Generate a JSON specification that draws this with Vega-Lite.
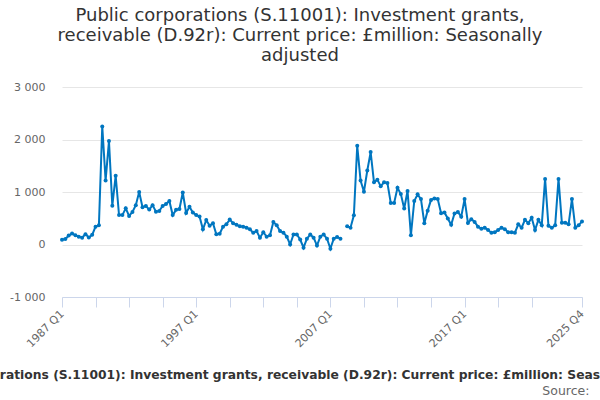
{
  "$schema": "https://vega.github.io/schema/vega-lite/v6.json",
  "width": 520,
  "height": 210,
  "autosize": "none",
  "padding": {"left": 62, "top": 87, "right": 18, "bottom": 103},
  "title": {
    "text": ["Public corporations (S.11001): Investment grants,", "receivable (D.92r): Current price: £million: Seasonally", "adjusted"],
    "font": "DejaVu Sans",
    "fontSize": 18,
    "fontWeight": "normal",
    "color": "#333333",
    "lineHeight": 20,
    "anchor": "middle",
    "dx": -22,
    "offset": 16
  },
  "data": {
    "values": [
      {"q": "1987 Q1", "v": 90}, {"q": "1987 Q2", "v": 105}, {"q": "1987 Q3", "v": 170}, {"q": "1987 Q4", "v": 210},
      {"q": "1988 Q1", "v": 175}, {"q": "1988 Q2", "v": 150}, {"q": "1988 Q3", "v": 130}, {"q": "1988 Q4", "v": 195},
      {"q": "1989 Q1", "v": 135}, {"q": "1989 Q2", "v": 185}, {"q": "1989 Q3", "v": 340}, {"q": "1989 Q4", "v": 365},
      {"q": "1990 Q1", "v": 2250}, {"q": "1990 Q2", "v": 1220}, {"q": "1990 Q3", "v": 1970}, {"q": "1990 Q4", "v": 740},
      {"q": "1991 Q1", "v": 1310}, {"q": "1991 Q2", "v": 560}, {"q": "1991 Q3", "v": 560}, {"q": "1991 Q4", "v": 690},
      {"q": "1992 Q1", "v": 545}, {"q": "1992 Q2", "v": 620}, {"q": "1992 Q3", "v": 750}, {"q": "1992 Q4", "v": 1000},
      {"q": "1993 Q1", "v": 710}, {"q": "1993 Q2", "v": 735}, {"q": "1993 Q3", "v": 665}, {"q": "1993 Q4", "v": 750},
      {"q": "1994 Q1", "v": 625}, {"q": "1994 Q2", "v": 640}, {"q": "1994 Q3", "v": 735}, {"q": "1994 Q4", "v": 770},
      {"q": "1995 Q1", "v": 830}, {"q": "1995 Q2", "v": 560}, {"q": "1995 Q3", "v": 660}, {"q": "1995 Q4", "v": 675},
      {"q": "1996 Q1", "v": 990}, {"q": "1996 Q2", "v": 600}, {"q": "1996 Q3", "v": 720}, {"q": "1996 Q4", "v": 610},
      {"q": "1997 Q1", "v": 560}, {"q": "1997 Q2", "v": 535}, {"q": "1997 Q3", "v": 290}, {"q": "1997 Q4", "v": 465},
      {"q": "1998 Q1", "v": 355}, {"q": "1998 Q2", "v": 405}, {"q": "1998 Q3", "v": 195}, {"q": "1998 Q4", "v": 205},
      {"q": "1999 Q1", "v": 340}, {"q": "1999 Q2", "v": 385}, {"q": "1999 Q3", "v": 475}, {"q": "1999 Q4", "v": 405},
      {"q": "2000 Q1", "v": 375}, {"q": "2000 Q2", "v": 350}, {"q": "2000 Q3", "v": 340}, {"q": "2000 Q4", "v": 320},
      {"q": "2001 Q1", "v": 290}, {"q": "2001 Q2", "v": 225}, {"q": "2001 Q3", "v": 255}, {"q": "2001 Q4", "v": 130},
      {"q": "2002 Q1", "v": 235}, {"q": "2002 Q2", "v": 150}, {"q": "2002 Q3", "v": 175}, {"q": "2002 Q4", "v": 430},
      {"q": "2003 Q1", "v": 365}, {"q": "2003 Q2", "v": 255}, {"q": "2003 Q3", "v": 225}, {"q": "2003 Q4", "v": 150},
      {"q": "2004 Q1", "v": 0}, {"q": "2004 Q2", "v": 190}, {"q": "2004 Q3", "v": 190}, {"q": "2004 Q4", "v": 95},
      {"q": "2005 Q1", "v": -60}, {"q": "2005 Q2", "v": 110}, {"q": "2005 Q3", "v": 190}, {"q": "2005 Q4", "v": 130},
      {"q": "2006 Q1", "v": -20}, {"q": "2006 Q2", "v": 150}, {"q": "2006 Q3", "v": 190}, {"q": "2006 Q4", "v": 110},
      {"q": "2007 Q1", "v": -80}, {"q": "2007 Q2", "v": 110}, {"q": "2007 Q3", "v": 145}, {"q": "2007 Q4", "v": 110},
      {"q": "2008 Q1", "v": null}, {"q": "2008 Q2", "v": 350}, {"q": "2008 Q3", "v": 320}, {"q": "2008 Q4", "v": 555},
      {"q": "2009 Q1", "v": 1880}, {"q": "2009 Q2", "v": 1220}, {"q": "2009 Q3", "v": 1005}, {"q": "2009 Q4", "v": 1410},
      {"q": "2010 Q1", "v": 1760}, {"q": "2010 Q2", "v": 1185}, {"q": "2010 Q3", "v": 1235}, {"q": "2010 Q4", "v": 1110},
      {"q": "2011 Q1", "v": 1185}, {"q": "2011 Q2", "v": 1170}, {"q": "2011 Q3", "v": 790}, {"q": "2011 Q4", "v": 790},
      {"q": "2012 Q1", "v": 1080}, {"q": "2012 Q2", "v": 960}, {"q": "2012 Q3", "v": 685}, {"q": "2012 Q4", "v": 1020},
      {"q": "2013 Q1", "v": 175}, {"q": "2013 Q2", "v": 830}, {"q": "2013 Q3", "v": 955}, {"q": "2013 Q4", "v": 865},
      {"q": "2014 Q1", "v": 405}, {"q": "2014 Q2", "v": 645}, {"q": "2014 Q3", "v": 850}, {"q": "2014 Q4", "v": 875},
      {"q": "2015 Q1", "v": 865}, {"q": "2015 Q2", "v": 595}, {"q": "2015 Q3", "v": 610}, {"q": "2015 Q4", "v": 495},
      {"q": "2016 Q1", "v": 375}, {"q": "2016 Q2", "v": 590}, {"q": "2016 Q3", "v": 620}, {"q": "2016 Q4", "v": 530},
      {"q": "2017 Q1", "v": 865}, {"q": "2017 Q2", "v": 410}, {"q": "2017 Q3", "v": 480}, {"q": "2017 Q4", "v": 430},
      {"q": "2018 Q1", "v": 340}, {"q": "2018 Q2", "v": 300}, {"q": "2018 Q3", "v": 320}, {"q": "2018 Q4", "v": 275},
      {"q": "2019 Q1", "v": 225}, {"q": "2019 Q2", "v": 235}, {"q": "2019 Q3", "v": 275}, {"q": "2019 Q4", "v": 320},
      {"q": "2020 Q1", "v": 290}, {"q": "2020 Q2", "v": 235}, {"q": "2020 Q3", "v": 235}, {"q": "2020 Q4", "v": 225},
      {"q": "2021 Q1", "v": 385}, {"q": "2021 Q2", "v": 320}, {"q": "2021 Q3", "v": 470}, {"q": "2021 Q4", "v": 405},
      {"q": "2022 Q1", "v": 510}, {"q": "2022 Q2", "v": 275}, {"q": "2022 Q3", "v": 470}, {"q": "2022 Q4", "v": 365},
      {"q": "2023 Q1", "v": 1250}, {"q": "2023 Q2", "v": 355}, {"q": "2023 Q3", "v": 320}, {"q": "2023 Q4", "v": 365},
      {"q": "2024 Q1", "v": 1250}, {"q": "2024 Q2", "v": 415}, {"q": "2024 Q3", "v": 415}, {"q": "2024 Q4", "v": 385},
      {"q": "2025 Q1", "v": 865}, {"q": "2025 Q2", "v": 320}, {"q": "2025 Q3", "v": 365}, {"q": "2025 Q4", "v": 440}
    ]
  },
  "layer": [
    {
      "mark": {"type": "line", "color": "#0076c0", "strokeWidth": 2},
      "encoding": {
        "x": {
          "field": "q",
          "type": "ordinal",
          "scale": {"type": "point", "padding": 0},
          "axis": {
            "orient": "bottom",
            "values": ["1987 Q1", "1989 Q3", "1992 Q1", "1994 Q3", "1997 Q1", "1999 Q3", "2002 Q1", "2004 Q3", "2007 Q1", "2009 Q3", "2012 Q1", "2014 Q3", "2017 Q1", "2019 Q3", "2022 Q1", "2025 Q4"],
            "labelExpr": "indexof(['1987 Q1', '1997 Q1', '2007 Q1', '2017 Q1', '2025 Q4'], datum.label) >= 0 ? datum.label : ''",
            "labelAngle": -45,
            "labelAlign": "right",
            "labelBaseline": "middle",
            "labelPadding": 5,
            "labelFontSize": 11,
            "labelColor": "#666666",
            "labelOverlap": false,
            "tickSize": 10,
            "tickColor": "#ccd6eb",
            "domainColor": "#ccd6eb",
            "grid": false,
            "title": "Public corporations (S.11001): Investment grants, receivable (D.92r): Current price: £million: Seasonally adjusted",
            "titleFontSize": 12.3,
            "titleFontWeight": "bold",
            "titleColor": "#333333",
            "titleX": 248,
            "titleY": 81,
            "titleAlign": "center",
            "titleBaseline": "alphabetic"
          }
        },
        "y": {
          "field": "v",
          "type": "quantitative",
          "scale": {"domain": [-1000, 3000], "nice": false},
          "axis": {
            "values": [-1000, 0, 1000, 2000, 3000],
            "labelExpr": "replace(replace(format(datum.value, ','), ',', ' '), '−', '-')",
            "labelFontSize": 11,
            "labelColor": "#666666",
            "labelPadding": 17,
            "ticks": false,
            "tickSize": 0,
            "domain": false,
            "grid": true,
            "gridColor": "#e6e6e6",
            "title": null
          }
        }
      }
    },
    {
      "mark": {"type": "point", "filled": true, "color": "#0076c0", "size": 16, "opacity": 1},
      "encoding": {
        "x": {
          "field": "q",
          "type": "ordinal",
          "axis": {
            "orient": "bottom",
            "labels": false,
            "ticks": false,
            "domain": false,
            "grid": false,
            "title": "Source:",
            "titleFontSize": 12.5,
            "titleFontWeight": "normal",
            "titleColor": "#666666",
            "titleX": 527,
            "titleY": 97,
            "titleAlign": "right",
            "titleBaseline": "alphabetic"
          }
        },
        "y": {"field": "v", "type": "quantitative"}
      }
    }
  ],
  "resolve": {"axis": {"x": "independent"}},
  "config": {
    "font": "DejaVu Sans",
    "view": {"stroke": null},
    "background": "#ffffff"
  }
}
